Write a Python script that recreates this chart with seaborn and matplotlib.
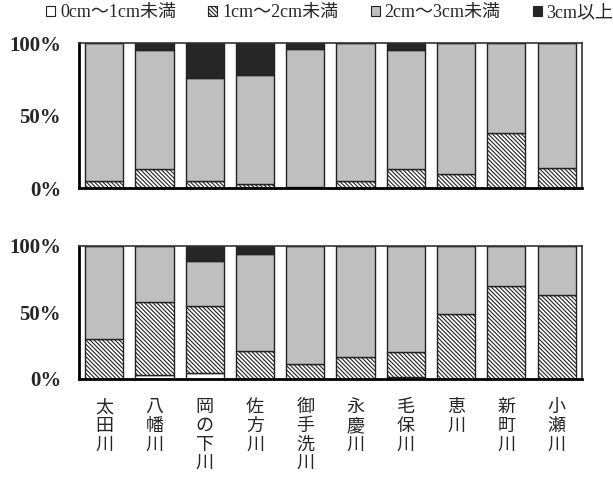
import matplotlib
matplotlib.use("Agg")
import matplotlib.pyplot as plt
import seaborn as sns
import pandas as pd
from matplotlib.patches import Patch

sns.set_style("white")
plt.rcParams['font.family'] = ['Liberation Serif', 'Noto Sans CJK JP', 'DejaVu Sans']
plt.rcParams['hatch.linewidth'] = 0.8
plt.rcParams['hatch.color'] = '#222222'

rivers = ['太田川', '八幡川', '岡の下川', '佐方川', '御手洗川',
          '永慶川', '毛保川', '恵川', '新町川', '小瀬川']
series = ['0cm～1cm未満', '1cm～2cm未満', '2cm～3cm未満', '3cm以上']

# top panel (%)
top_0_1 = [0, 0, 0, 0, 0, 0, 0, 0, 0, 0]
top_1_2 = [5, 13, 5, 3, 1, 5, 13, 10, 38, 14]
top_2_3 = [95, 82, 71, 75, 95, 95, 82, 90, 62, 86]
top_3up = [0, 5, 24, 22, 4, 0, 5, 0, 0, 0]

# bottom panel (%)
bot_0_1 = [0, 3, 4, 0, 0, 0, 1, 0, 0, 0]
bot_1_2 = [30, 55, 51, 21, 11, 16, 19, 49, 70, 63]
bot_2_3 = [70, 42, 34, 73, 89, 84, 80, 51, 30, 37]
bot_3up = [0, 0, 11, 6, 0, 0, 0, 0, 0, 0]

styles = [dict(color='white', hatch=None),
          dict(color='white', hatch='\\' * 8),
          dict(color='#bfbfbf', hatch=None),
          dict(color='#262626', hatch=None)]

fig = plt.figure(figsize=(6.13, 4.79), dpi=100)
ax1 = fig.add_axes([0.129, 0.6075, 0.820, 0.3027])
ax2 = fig.add_axes([0.129, 0.2094, 0.820, 0.2772])


def stacked(ax, parts):
    bottom = [0] * len(rivers)
    for vals, st in zip(parts, styles):
        df = pd.DataFrame({'river': rivers, 'pct': vals})
        sns.barplot(data=df, x='river', y='pct', ax=ax, bottom=bottom,
                    color=st['color'], hatch=st['hatch'], width=0.76,
                    edgecolor='#222222', linewidth=1.0, saturation=1)
        bottom = [b + v for b, v in zip(bottom, vals)]
    ax.set_ylim(0, 100)
    ax.set_xlim(-0.5, len(rivers) - 0.5)
    ax.set_yticks([0, 50, 100])
    ax.set_yticklabels(['0%', '50%', '100%'], fontsize=15, fontweight='bold',
                       family='Liberation Serif')
    ax.tick_params(axis='y', length=0, pad=13)
    ax.set_xlabel('')
    ax.set_ylabel('')
    for side in ['left', 'bottom']:
        ax.spines[side].set_linewidth(2.0)
        ax.spines[side].set_color('black')
    for side in ['top', 'right']:
        ax.spines[side].set_linewidth(1.2)
        ax.spines[side].set_color('#333333')


stacked(ax1, [top_0_1, top_1_2, top_2_3, top_3up])
stacked(ax2, [bot_0_1, bot_1_2, bot_2_3, bot_3up])

ax1.set_xticks(range(len(rivers)))
ax1.set_xticklabels([])
ax1.tick_params(axis='x', length=0)

ax2.set_xticks(range(len(rivers)))
ax2.set_xticklabels(['\n'.join(r) for r in rivers], fontsize=13,
                    family=['Noto Sans CJK JP'], va='top', linespacing=1.05)
ax2.tick_params(axis='x', length=0, pad=14)

handles = [Patch(facecolor=st['color'], hatch=st['hatch'], edgecolor='#222222',
                 linewidth=0.8) for st in styles]
fig.legend(handles, series, loc='center', bbox_to_anchor=(0.538, 0.973), ncol=4,
           frameon=False, fontsize=13, handlelength=0.5, handleheight=0.5,
           handletextpad=0.25, columnspacing=1.8, borderaxespad=0)

fig.savefig('out.png', dpi=100)
